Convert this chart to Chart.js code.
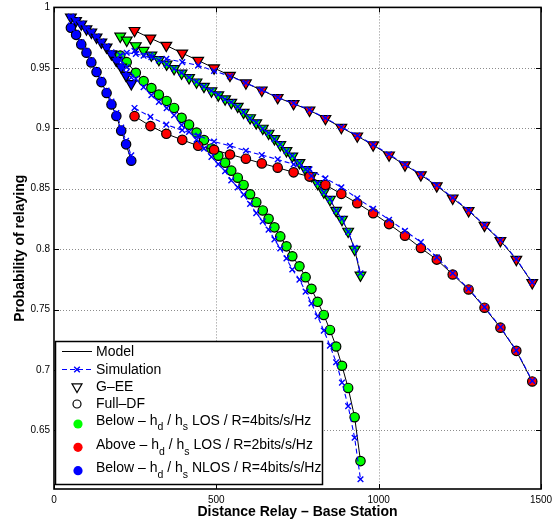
<!DOCTYPE html>
<html>
<head>
<meta charset="utf-8">
<script src="https://cdn.jsdelivr.net/npm/chart.js@4.4.1/dist/chart.umd.min.js"></script>
<style>
  html, body { margin: 0; padding: 0; background: #fff; }
  canvas { display: block; }
</style>
</head>
<body>
<canvas id="relayChart" width="555" height="523"></canvas>
<script>
// relay distances for each scenario
const distNlos = [52, 68, 84, 100, 115, 131, 146, 162, 177, 192, 207, 222, 238];
const distLos4 = [204, 224, 252, 276, 300, 323, 347, 370, 393, 416, 439, 462, 485, 506, 527, 546, 566, 584, 604,
  623, 643, 661, 679, 697, 716, 734, 756, 775, 793, 812, 831, 850, 869, 887, 906, 926, 944];
const distLos2 = [248, 297, 346, 395, 444, 493, 542, 591, 640, 689, 738, 787, 836, 885, 934, 983, 1032, 1081,
  1130, 1179, 1228, 1277, 1326, 1375, 1424, 1473];

const xTicks = [0, 500, 1000, 1500];
const yTicks = [0.65, 0.7, 0.75, 0.8, 0.85, 0.9, 0.95, 1];

// model: below, NLOS, R=4
const modelNlosGee = [0.9918, 0.9890, 0.9862, 0.9821, 0.9794, 0.9753, 0.9712, 0.9671, 0.9615, 0.9561, 0.9506, 0.9437, 0.9368];
const modelNlosDf = [0.9831, 0.9773, 0.9694, 0.9625, 0.9545, 0.9465, 0.9382, 0.9292, 0.9197, 0.9102, 0.8980, 0.8867, 0.8731];
// model: below, LOS, R=4
const modelLos4Gee = [0.9761, 0.9728, 0.9682, 0.9643, 0.9605, 0.9568, 0.9530, 0.9493, 0.9456, 0.9418, 0.9382, 0.9346,
  0.9308, 0.9275, 0.9242, 0.9213, 0.9181, 0.9131, 0.9086, 0.9044, 0.8999, 0.8958, 0.8913, 0.8863, 0.8814, 0.8769,
  0.8715, 0.8657, 0.8608, 0.8542, 0.8472, 0.8410, 0.8320, 0.8245, 0.8147, 0.7998, 0.7784];
const modelLos4Df = [0.9602, 0.9547, 0.9459, 0.9390, 0.9333, 0.9278, 0.9226, 0.9168, 0.9086, 0.9030, 0.8965, 0.8902,
  0.8833, 0.8773, 0.8715, 0.8649, 0.8591, 0.8531, 0.8454, 0.8388, 0.8320, 0.8251, 0.8180, 0.8105, 0.8023, 0.7941,
  0.7858, 0.7768, 0.7671, 0.7564, 0.7455, 0.7331, 0.7194, 0.7035, 0.6851, 0.6609, 0.6246];
// model: above, LOS, R=2
const modelLos2Gee = [0.9808, 0.9745, 0.9685, 0.9621, 0.9561, 0.9498, 0.9437, 0.9374, 0.9314, 0.9253, 0.9203, 0.9149,
  0.9080, 0.9006, 0.8935, 0.8861, 0.8778, 0.8696, 0.8614, 0.8523, 0.8421, 0.8317, 0.8196, 0.8070, 0.7914, 0.7721];
const modelLos2Df = [0.9100, 0.9018, 0.8954, 0.8904, 0.8855, 0.8822, 0.8783, 0.8748, 0.8709, 0.8674, 0.8635, 0.8600,
  0.8531, 0.8457, 0.8380, 0.8297, 0.8207, 0.8111, 0.8009, 0.7913, 0.7790, 0.7666, 0.7515, 0.7350, 0.7158, 0.6905];

// simulation results, same distances
const simNlosGee = [0.9925, 0.9895, 0.9866, 0.9826, 0.9800, 0.9760, 0.9720, 0.9680, 0.9628, 0.9575, 0.9522, 0.9460, 0.9420];
const simNlosDf = [0.9850, 0.9790, 0.9712, 0.9640, 0.9562, 0.9482, 0.9400, 0.9312, 0.9220, 0.9125, 0.9005, 0.8895, 0.8775];
const simLos4Gee = [0.9605, 0.9625, 0.9615, 0.9600, 0.9588, 0.9562, 0.9528, 0.9492, 0.9458, 0.9420, 0.9385, 0.9344,
  0.9310, 0.9278, 0.9240, 0.9215, 0.9178, 0.9134, 0.9083, 0.9047, 0.8996, 0.8961, 0.8910, 0.8866, 0.8811, 0.8772,
  0.8712, 0.8660, 0.8605, 0.8545, 0.8468, 0.8414, 0.8316, 0.8250, 0.8142, 0.8010, 0.7800];
const simLos4Df = [0.9562, 0.9507, 0.9409, 0.9340, 0.9273, 0.9218, 0.9166, 0.9108, 0.9026, 0.8970, 0.8905, 0.8832,
  0.8763, 0.8703, 0.8645, 0.8569, 0.8511, 0.8451, 0.8374, 0.8298, 0.8230, 0.8161, 0.8080, 0.8005, 0.7923, 0.7831,
  0.7748, 0.7648, 0.7551, 0.7444, 0.7325, 0.7201, 0.7064, 0.6895, 0.6701, 0.6439, 0.6096];
const simLos2Gee = [0.9640, 0.9605, 0.9574, 0.9547, 0.9520, 0.9475, 0.9430, 0.9376, 0.9318, 0.9255, 0.9207, 0.9152,
  0.9085, 0.9010, 0.8940, 0.8865, 0.8785, 0.8700, 0.8620, 0.8530, 0.8425, 0.8322, 0.8200, 0.8075, 0.7918, 0.7725];
const simLos2Df = [0.9168, 0.9094, 0.9030, 0.8984, 0.8940, 0.8890, 0.8855, 0.8814, 0.8778, 0.8742, 0.8701, 0.8660,
  0.8586, 0.8512, 0.8421, 0.8334, 0.8243, 0.8152, 0.8058, 0.7932, 0.7800, 0.7672, 0.7520, 0.7355, 0.7162, 0.6910];

const GREEN = '#00ff00', RED = '#ff0000', BLUE = '#0000ff';
const FONT = '"Liberation Sans", Arial, Helvetica, sans-serif';

const pts = (xs, ys) => xs.map((x, i) => ({ x, y: ys[i] }));

function model(xs, ys, fill, shape) {
  const tri = shape === 'triangle';
  return {
    data: pts(xs, ys),
    showLine: true,
    borderColor: '#000',
    borderWidth: 1,
    pointStyle: shape,
    pointRotation: tri ? 180 : 0,
    pointRadius: tri ? 6.2 : 4.7,
    pointBackgroundColor: fill,
    pointBorderColor: '#000',
    pointBorderWidth: 1.2
  };
}

function sim(xs, ys) {
  return {
    data: pts(xs, ys),
    showLine: true,
    borderColor: BLUE,
    borderWidth: 1.1,
    borderDash: [5, 3],
    pointStyle: 'crossRot',
    pointRadius: 4,
    pointBorderColor: BLUE,
    pointBorderWidth: 1.4
  };
}

// first dataset ends up on top
const datasets = [
  sim(distNlos, simNlosGee), sim(distNlos, simNlosDf),
  sim(distLos4, simLos4Gee), sim(distLos4, simLos4Df),
  sim(distLos2, simLos2Gee), sim(distLos2, simLos2Df),
  model(distNlos, modelNlosGee, BLUE, 'triangle'),
  model(distNlos, modelNlosDf, BLUE, 'circle'),
  model(distLos2, modelLos2Gee, RED, 'triangle'),
  model(distLos2, modelLos2Df, RED, 'circle'),
  model(distLos4, modelLos4Df, GREEN, 'circle'),
  model(distLos4, modelLos4Gee, GREEN, 'triangle')
];

// dotted grid under the data
const dottedGrid = {
  id: 'dottedGrid',
  beforeDatasetsDraw(chart) {
    const { ctx, chartArea: a, scales: { x, y } } = chart;
    ctx.save();
    ctx.strokeStyle = '#8c8c8c';
    ctx.lineWidth = 1;
    ctx.setLineDash([1, 2]);
    ctx.beginPath();
    xTicks.slice(1, -1).forEach(v => {
      const px = Math.round(x.getPixelForValue(v)) + 0.5;
      ctx.moveTo(px, a.top); ctx.lineTo(px, a.bottom);
    });
    yTicks.slice(0, -1).forEach(v => {
      const py = Math.round(y.getPixelForValue(v)) + 0.5;
      ctx.moveTo(a.left, py); ctx.lineTo(a.right, py);
    });
    ctx.stroke();
    ctx.restore();
  }
};

// axes box with inward ticks on all four sides
const frame = {
  id: 'frame',
  afterDatasetsDraw(chart) {
    const { ctx, chartArea: a, scales: { x, y } } = chart;
    ctx.save();
    ctx.strokeStyle = '#000';
    ctx.lineWidth = 1;
    ctx.beginPath();
    xTicks.forEach(v => {
      const px = Math.round(x.getPixelForValue(v)) + 0.5;
      ctx.moveTo(px, a.bottom); ctx.lineTo(px, a.bottom - 5);
      ctx.moveTo(px, a.top); ctx.lineTo(px, a.top + 5);
    });
    yTicks.forEach(v => {
      const py = Math.round(y.getPixelForValue(v)) + 0.5;
      ctx.moveTo(a.left, py); ctx.lineTo(a.left + 5, py);
      ctx.moveTo(a.right, py); ctx.lineTo(a.right - 5, py);
    });
    ctx.stroke();
    ctx.lineWidth = 1.6;
    ctx.strokeRect(a.left, a.top, a.right - a.left, a.bottom - a.top);
    ctx.restore();
  }
};

function richText(ctx, parts, x, y) {
  parts.forEach(([txt, sub]) => {
    ctx.font = sub ? `10.5px ${FONT}` : `14px ${FONT}`;
    ctx.fillText(txt, x, sub ? y + 6.5 : y);
    x += ctx.measureText(txt).width;
  });
}

const legendBox = {
  id: 'legendBox',
  afterDraw(chart) {
    const ctx = chart.ctx;
    const bx = 55.5, by = 341.5, bw = 267, bh = 143;
    const sx = 77, tx = 96;
    ctx.save();
    ctx.fillStyle = '#fff';
    ctx.fillRect(bx, by, bw, bh);
    ctx.strokeStyle = '#000';
    ctx.lineWidth = 1.5;
    ctx.strokeRect(bx, by, bw, bh);

    // Model
    ctx.lineWidth = 1;
    ctx.beginPath(); ctx.moveTo(62, 351.5); ctx.lineTo(92, 351.5); ctx.stroke();
    // Simulation
    ctx.strokeStyle = BLUE;
    ctx.setLineDash([5, 3]);
    ctx.beginPath(); ctx.moveTo(62, 369.5); ctx.lineTo(92, 369.5); ctx.stroke();
    ctx.setLineDash([]);
    ctx.lineWidth = 1.4;
    ctx.beginPath();
    ctx.moveTo(sx - 2.8, 366.7); ctx.lineTo(sx + 2.8, 372.3);
    ctx.moveTo(sx + 2.8, 366.7); ctx.lineTo(sx - 2.8, 372.3);
    ctx.stroke();
    // G-EE
    ctx.strokeStyle = '#000';
    ctx.lineWidth = 1.2;
    ctx.beginPath();
    ctx.moveTo(sx - 5, 383.8); ctx.lineTo(sx + 5, 383.8); ctx.lineTo(sx, 392.5); ctx.closePath();
    ctx.stroke();
    // Full-DF
    ctx.beginPath(); ctx.arc(sx, 404, 4, 0, Math.PI * 2); ctx.stroke();
    // scenario colours
    [[GREEN, 424], [RED, 447.3], [BLUE, 470.7]].forEach(([c, cy]) => {
      ctx.fillStyle = c;
      ctx.beginPath(); ctx.arc(sx + 1, cy, 4.6, 0, Math.PI * 2); ctx.fill();
    });

    ctx.fillStyle = '#000';
    ctx.textBaseline = 'middle';
    ctx.textAlign = 'left';
    ctx.font = `14px ${FONT}`;
    ctx.fillText('Model', tx, 352.5);
    ctx.fillText('Simulation', tx, 370);
    ctx.fillText('G\u2013EE', tx, 387.3);
    ctx.fillText('Full\u2013DF', tx, 404);
    richText(ctx, [['Below \u2013 h', 0], ['d', 1], [' / h', 0], ['s', 1], [' LOS / R=4bits/s/Hz', 0]], tx, 421);
    richText(ctx, [['Above \u2013 h', 0], ['d', 1], [' / h', 0], ['s', 1], [' LOS / R=2bits/s/Hz', 0]], tx, 445.5);
    richText(ctx, [['Below \u2013 h', 0], ['d', 1], [' / h', 0], ['s', 1], [' NLOS / R=4bits/s/Hz', 0]], tx, 468.5);
    ctx.restore();
  }
};

new Chart(document.getElementById('relayChart'), {
  type: 'scatter',
  data: { datasets },
  plugins: [dottedGrid, frame, legendBox],
  options: {
    responsive: false,
    animation: false,
    devicePixelRatio: 1,
    layout: { padding: { left: 0, top: 5, right: 14, bottom: 0 } },
    plugins: { legend: { display: false }, tooltip: { enabled: false } },
    scales: {
      x: {
        type: 'linear',
        min: 0,
        max: 1500,
        afterBuildTicks: s => { s.ticks = xTicks.map(v => ({ value: v })); },
        afterFit: s => { s.height = 34; s.paddingLeft = 0; s.paddingRight = 0; },
        ticks: {
          font: { family: FONT, size: 10 }, color: '#000', padding: 5, maxRotation: 0,
          callback: v => String(v)
        },
        grid: { display: false, drawTicks: false },
        border: { display: false },
        title: {
          display: true,
          text: 'Distance Relay \u2013 Base Station',
          color: '#000',
          font: { family: FONT, size: 14, weight: 'bold' },
          padding: { top: 0, bottom: 2 }
        }
      },
      y: {
        min: 0.6015,
        max: 1,
        afterBuildTicks: s => { s.ticks = yTicks.map(v => ({ value: v })); },
        afterFit: s => { s.width = 54; s.paddingTop = 0; s.paddingBottom = 0; },
        ticks: {
          font: { family: FONT, size: 10 }, color: '#000', padding: 4,
          callback: v => String(Number(v.toFixed(2)))
        },
        grid: { display: false, drawTicks: false },
        border: { display: false },
        title: {
          display: true,
          text: 'Probability of relaying',
          color: '#000',
          font: { family: FONT, size: 14, weight: 'bold' },
          padding: { top: 12, bottom: 0 }
        }
      }
    }
  }
});
</script>
</body>
</html>
